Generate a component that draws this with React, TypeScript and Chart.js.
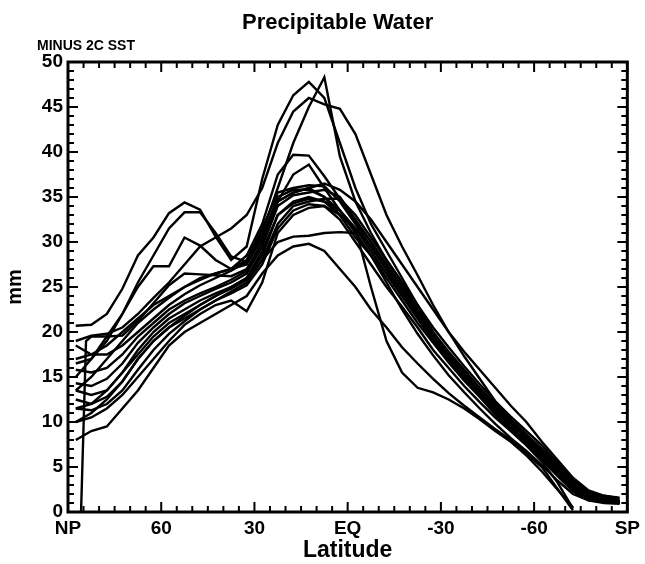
import React, { useEffect, useRef } from 'react';
import { Chart, registerables } from 'chart.js';

Chart.register(...registerables);

const TITLE = 'Precipitable Water';
const SUBTITLE = 'MINUS 2C SST';
const X_TITLE = 'Latitude';
const Y_TITLE = 'mm';

const X_TICK_VALUES = [90, 60, 30, 0, -30, -60, -90];
const X_TICK_LABELS = ['NP', '60', '30', 'EQ', '-30', '-60', 'SP'];
const Y_MIN = 0;
const Y_MAX = 50;
const Y_STEP = 5;

const LATITUDES = [
  87.5, 82.5, 77.5, 72.5, 67.5, 62.5, 57.5, 52.5, 47.5, 42.5, 37.5, 32.5,
  27.5, 22.5, 17.5, 12.5, 7.5, 2.5, -2.5, -7.5, -12.5, -17.5, -22.5, -27.5,
  -32.5, -37.5, -42.5, -47.5, -52.5, -57.5, -62.5, -67.5, -72.5, -77.5, -82.5, -87.5,
];

const S01 = [20.7, 20.8, 22.0, 24.8, 28.5, 30.5, 33.2, 34.4, 33.6, 30.6, 28.0, 29.5, 37.0, 43.0, 46.3, 47.8, 46.0, 41.0, 36.0, 32.0, 29.0, 26.0, 23.0, 20.0, 17.3, 15.0, 12.8, 10.8, 9.0, 7.5, 5.8, 4.0, 2.3, 1.3, 1.0, 0.9];
const S02 = [15.0, 17.0, 19.5, 22.0, 25.5, 28.5, 31.5, 33.3, 33.3, 31.0, 28.4, 27.8, 31.0, 36.0, 41.0, 45.0, 48.3, 39.5, 34.5, 31.0, 28.0, 25.5, 22.5, 19.8, 17.2, 15.0, 13.0, 11.0, 9.3, 7.7, 6.0, 4.2, 2.5, 1.5, 1.2, 1.0];
const S03 = [19.0, 19.6, 19.8, 20.5, 22.0, 23.8, 25.5, 27.5, 29.5, 30.5, 31.5, 33.0, 36.0, 41.0, 44.5, 46.0, 45.3, 44.8, 42.0, 37.5, 33.0, 29.5, 26.3, 23.0, 20.0, 17.3, 14.8, 12.3, 10.3, 8.6, 7.0, 5.2, 3.5, 2.3, 1.8, 1.6];
const S04 = [13.5, 15.0, 17.0, 19.0, 21.0, 22.5, 23.8, 25.0, 26.0, 26.5, 27.0, 28.5, 32.0, 37.5, 39.7, 39.6, 37.3, 34.8, 32.3, 30.0, 27.5, 25.0, 22.3, 19.8, 17.5, 15.5, 13.5, 11.7, 10.0, 8.4, 6.7, 4.9, 3.1, 1.8, 1.3, 1.1];
const S05 = [null, 19.5, 19.5, 19.6, 21.2, 23.2, 25.2, 26.5, 26.4, 26.3, 26.2, 27.0, 30.0, 34.5, 37.5, 38.6, 36.0, 33.5, 31.5, 29.5, 27.0, 24.5, 22.0, 19.5, 17.3, 15.2, 13.2, 11.3, 9.6, 8.1, 6.5, 4.7, 2.9, 1.7, 1.3, 1.1];
const S06 = [8.0, 9.0, 9.5, 11.5, 13.5, 16.0, 18.5, 20.0, 21.0, 22.0, 23.0, 24.0, 26.5, 28.5, 29.5, 29.8, 29.0, 27.0, 25.0, 22.5, 20.5, 18.3, 16.5, 14.8, 13.2, 11.8, 10.5, 9.2, 8.0, 6.5, 5.0, 2.6, 0.2, null, null, null];
const S07 = [10.0, 11.0, 12.5, 14.5, 17.0, 19.0, 20.5, 21.5, 22.5, 23.5, 24.5, 25.5, 28.0, 30.0, 30.6, 30.7, 31.0, 31.1, 31.0, 28.5, 25.5, 22.5, 19.8, 17.4, 15.2, 13.3, 11.5, 9.8, 8.2, 6.8, 5.2, 3.5, 2.0, 1.3, 1.1, 1.0];
const S08 = [11.5, 12.0, 13.5, 15.5, 17.5, 19.5, 21.0, 22.0, 23.0, 24.0, 25.0, 26.0, 29.0, 33.0, 34.5, 35.0, 34.5, 33.0, 31.5, 25.0, 19.0, 15.5, 13.8, 13.3, 12.5, 11.5, 10.3, 9.0, 7.8, 6.3, 4.5, 2.5, 0.5, null, null, null];
const S09 = [17.0, 17.5, 18.5, 20.0, 21.5, 23.0, 24.0, 25.0, 25.8, 26.5, 27.0, 28.0, 31.5, 35.5, 36.0, 36.3, 36.2, 34.5, 32.0, 29.5, 27.0, 24.5, 22.0, 19.5, 17.3, 15.2, 13.3, 11.5, 9.8, 8.2, 6.5, 4.8, 3.0, 1.8, 1.4, 1.2];
const S10 = [15.8, 15.5, 16.0, 17.5, 19.5, 21.0, 22.5, 23.5, 24.3, 25.0, 25.8, 26.8, 30.0, 34.5, 35.5, 36.0, 35.0, 33.0, 30.5, 28.5, 26.0, 23.5, 21.0, 18.8, 16.6, 14.6, 12.8, 11.0, 9.3, 7.7, 6.0, 4.2, 2.5, 1.5, 1.2, 1.0];
const S11 = [14.3, 14.0, 14.8, 16.5, 18.8, 20.5, 22.0, 23.2, 24.0, 24.8, 25.5, 26.5, 29.5, 34.0, 35.2, 35.5, 35.8, 35.0, 32.5, 30.0, 27.5, 25.0, 22.5, 20.0, 17.8, 15.8, 13.8, 12.0, 10.2, 8.6, 7.0, 5.2, 3.3, 2.0, 1.5, 1.2];
const S12 = [13.5, 13.0, 13.5, 15.5, 18.0, 20.0, 21.5, 22.5, 23.5, 24.3, 25.0, 26.0, 28.5, 33.0, 34.3, 34.8, 34.5, 33.5, 31.0, 28.5, 26.5, 24.0, 21.8, 19.3, 17.0, 15.0, 13.0, 11.2, 9.6, 8.0, 6.3, 4.5, 2.7, 1.6, 1.3, 1.1];
const S13 = [12.5, 12.0, 12.8, 14.5, 17.0, 19.0, 20.5, 21.8, 23.0, 24.0, 24.8, 25.8, 28.0, 32.0, 34.0, 34.5, 34.8, 34.8, 33.0, 30.5, 28.0, 25.5, 23.0, 20.5, 18.3, 16.2, 14.2, 12.3, 10.6, 9.0, 7.4, 5.5, 3.6, 2.2, 1.6, 1.3];
const S14 = [11.5, 11.3, 12.0, 13.5, 15.8, 18.0, 19.8, 21.2, 22.5, 23.5, 24.3, 25.2, 27.5, 31.5, 33.5, 34.2, 34.0, 32.5, 30.0, 27.5, 25.0, 22.8, 20.5, 18.0, 16.0, 14.0, 12.2, 10.5, 9.0, 7.4, 5.6, 3.3, 0.4, null, null, null];
const S15 = [10.0, 10.5, 11.5, 13.0, 15.0, 17.0, 19.0, 20.8, 22.0, 23.0, 23.5, 22.3, 25.5, 31.0, 33.0, 33.8, 34.0, 33.0, 31.5, 29.5, 27.0, 24.5, 22.0, 19.5, 17.0, 15.0, 13.0, 11.3, 9.8, 8.3, 6.7, 4.8, 3.0, 1.7, 1.4, 1.2];
const S16 = [18.5, 17.5, 17.5, 18.5, 20.0, 21.5, 23.0, 24.2, 25.2, 26.0, 26.8, 27.8, 30.5, 34.5, 35.5, 36.0, 36.5, 35.8, 34.5, 32.5, 30.0, 27.5, 25.0, 22.5, 20.0, 17.8, 15.8, 13.8, 11.8, 10.0, 7.8, 5.8, 3.8, 2.4, 1.8, 1.5];
const S17 = [16.5, 17.0, 19.0, 22.0, 25.0, 27.3, 27.3, 30.5, 29.6, 28.0, 27.0, 27.5, 30.5, 35.0, 35.8, 35.8, 35.0, 33.5, 31.5, 29.0, 26.5, 24.0, 21.5, 19.0, 16.8, 14.8, 13.0, 11.2, 9.5, 8.0, 6.4, 4.6, 2.8, 1.7, 1.3, 1.1];

const SERIES = [S01, S02, S03, S04, S05, S06, S07, S08, S09, S10, S11, S12, S13, S14, S15, S16, S17];

// The one run that drops to zero right next to the pole
const DROP_SERIES = S05;
const DROP_LATS = [85.8, 84.2];
const DROP_VALUES = [0, 19.0];

const FONT = '"Liberation Sans", Arial, sans-serif';

function buildPoints(values: (number | null)[]) {
  const pts: { x: number; y: number }[] = [];
  if (values === DROP_SERIES) {
    DROP_LATS.forEach((lat, i) => pts.push({ x: lat, y: DROP_VALUES[i] }));
  }
  LATITUDES.forEach((lat, i) => {
    const v = values[i];
    if (v !== null && v !== undefined) pts.push({ x: lat, y: v });
  });
  return pts;
}

const framePlugin = {
  id: 'frameAndTitles',
  afterDraw(chart: any) {
    const { ctx, chartArea } = chart;
    const { left, right, top, bottom } = chartArea;
    const xs = chart.scales.x;
    const ys = chart.scales.y;
    ctx.save();
    ctx.strokeStyle = '#000';
    ctx.lineWidth = 2;
    ctx.beginPath();
    for (let v = -90; v <= 90; v += 5) {
      const px = xs.getPixelForValue(v);
      const len = v % 30 === 0 ? 10 : 6;
      ctx.moveTo(px, bottom);
      ctx.lineTo(px, bottom - len);
      ctx.moveTo(px, top);
      ctx.lineTo(px, top + len);
    }
    for (let v = Y_MIN; v <= Y_MAX; v += 1) {
      const py = ys.getPixelForValue(v);
      const len = v % 5 === 0 ? 10 : 6;
      ctx.moveTo(left, py);
      ctx.lineTo(left + len, py);
      ctx.moveTo(right, py);
      ctx.lineTo(right - len, py);
    }
    ctx.stroke();
    ctx.lineWidth = 3;
    ctx.strokeRect(left, top, right - left, bottom - top);

    ctx.fillStyle = '#000';
    ctx.textBaseline = 'alphabetic';
    ctx.font = `bold 22px ${FONT}`;
    ctx.textAlign = 'center';
    ctx.fillText(TITLE, (left + right) / 2 - 10, top - 33);
    ctx.font = `bold 14px ${FONT}`;
    ctx.textAlign = 'left';
    ctx.fillText(SUBTITLE, left - 31, top - 12);
    ctx.restore();
  },
};

export default function App() {
  const canvasRef = useRef<HTMLCanvasElement | null>(null);

  useEffect(() => {
    if (!canvasRef.current) return;
    const chart = new Chart(canvasRef.current, {
      type: 'line',
      data: {
        datasets: SERIES.map((values, i) => ({
          label: `Run ${i + 1}`,
          data: buildPoints(values),
          borderColor: '#000',
          backgroundColor: '#000',
          borderWidth: 2.4,
          pointRadius: 0,
          tension: 0,
          fill: false,
          spanGaps: false,
        })),
      },
      options: {
        animation: false,
        responsive: false,
        devicePixelRatio: 1,
        layout: { padding: { top: 62, right: 13, bottom: 0, left: 0 } },
        plugins: {
          legend: { display: false },
          tooltip: { enabled: false },
        },
        scales: {
          x: {
            type: 'linear',
            reverse: true,
            min: -90,
            max: 90,
            afterBuildTicks: (axis: any) => {
              axis.ticks = X_TICK_VALUES.map((value) => ({ value }));
            },
            afterFit: (axis: any) => {
              axis.height = 52;
            },
            ticks: {
              autoSkip: false,
              maxRotation: 0,
              padding: 5,
              color: '#000',
              font: { family: FONT, size: 19, weight: 'bold' },
              callback: (value: any) => {
                const idx = X_TICK_VALUES.indexOf(Number(value));
                return idx >= 0 ? X_TICK_LABELS[idx] : '';
              },
            },
            grid: { display: false, drawTicks: false },
            border: { display: false },
            title: {
              display: true,
              text: X_TITLE,
              color: '#000',
              font: { family: FONT, size: 23, weight: 'bold' },
              padding: { top: 0, bottom: 0 },
            },
          },
          y: {
            type: 'linear',
            min: Y_MIN,
            max: Y_MAX,
            afterFit: (axis: any) => {
              axis.width = 68;
            },
            ticks: {
              stepSize: Y_STEP,
              padding: 5,
              color: '#000',
              font: { family: FONT, size: 19, weight: 'bold' },
            },
            grid: { display: false, drawTicks: false },
            border: { display: false },
            title: {
              display: true,
              text: Y_TITLE,
              color: '#000',
              font: { family: FONT, size: 20, weight: 'bold' },
              padding: { top: 3, bottom: 0 },
            },
          },
        },
      },
      plugins: [framePlugin],
    } as any);
    return () => chart.destroy();
  }, []);

  return (
    <div style={{ position: 'absolute', left: 0, top: 0, width: 645, height: 564, background: '#fff' }}>
      <canvas ref={canvasRef} width={645} height={564} />
    </div>
  );
}
